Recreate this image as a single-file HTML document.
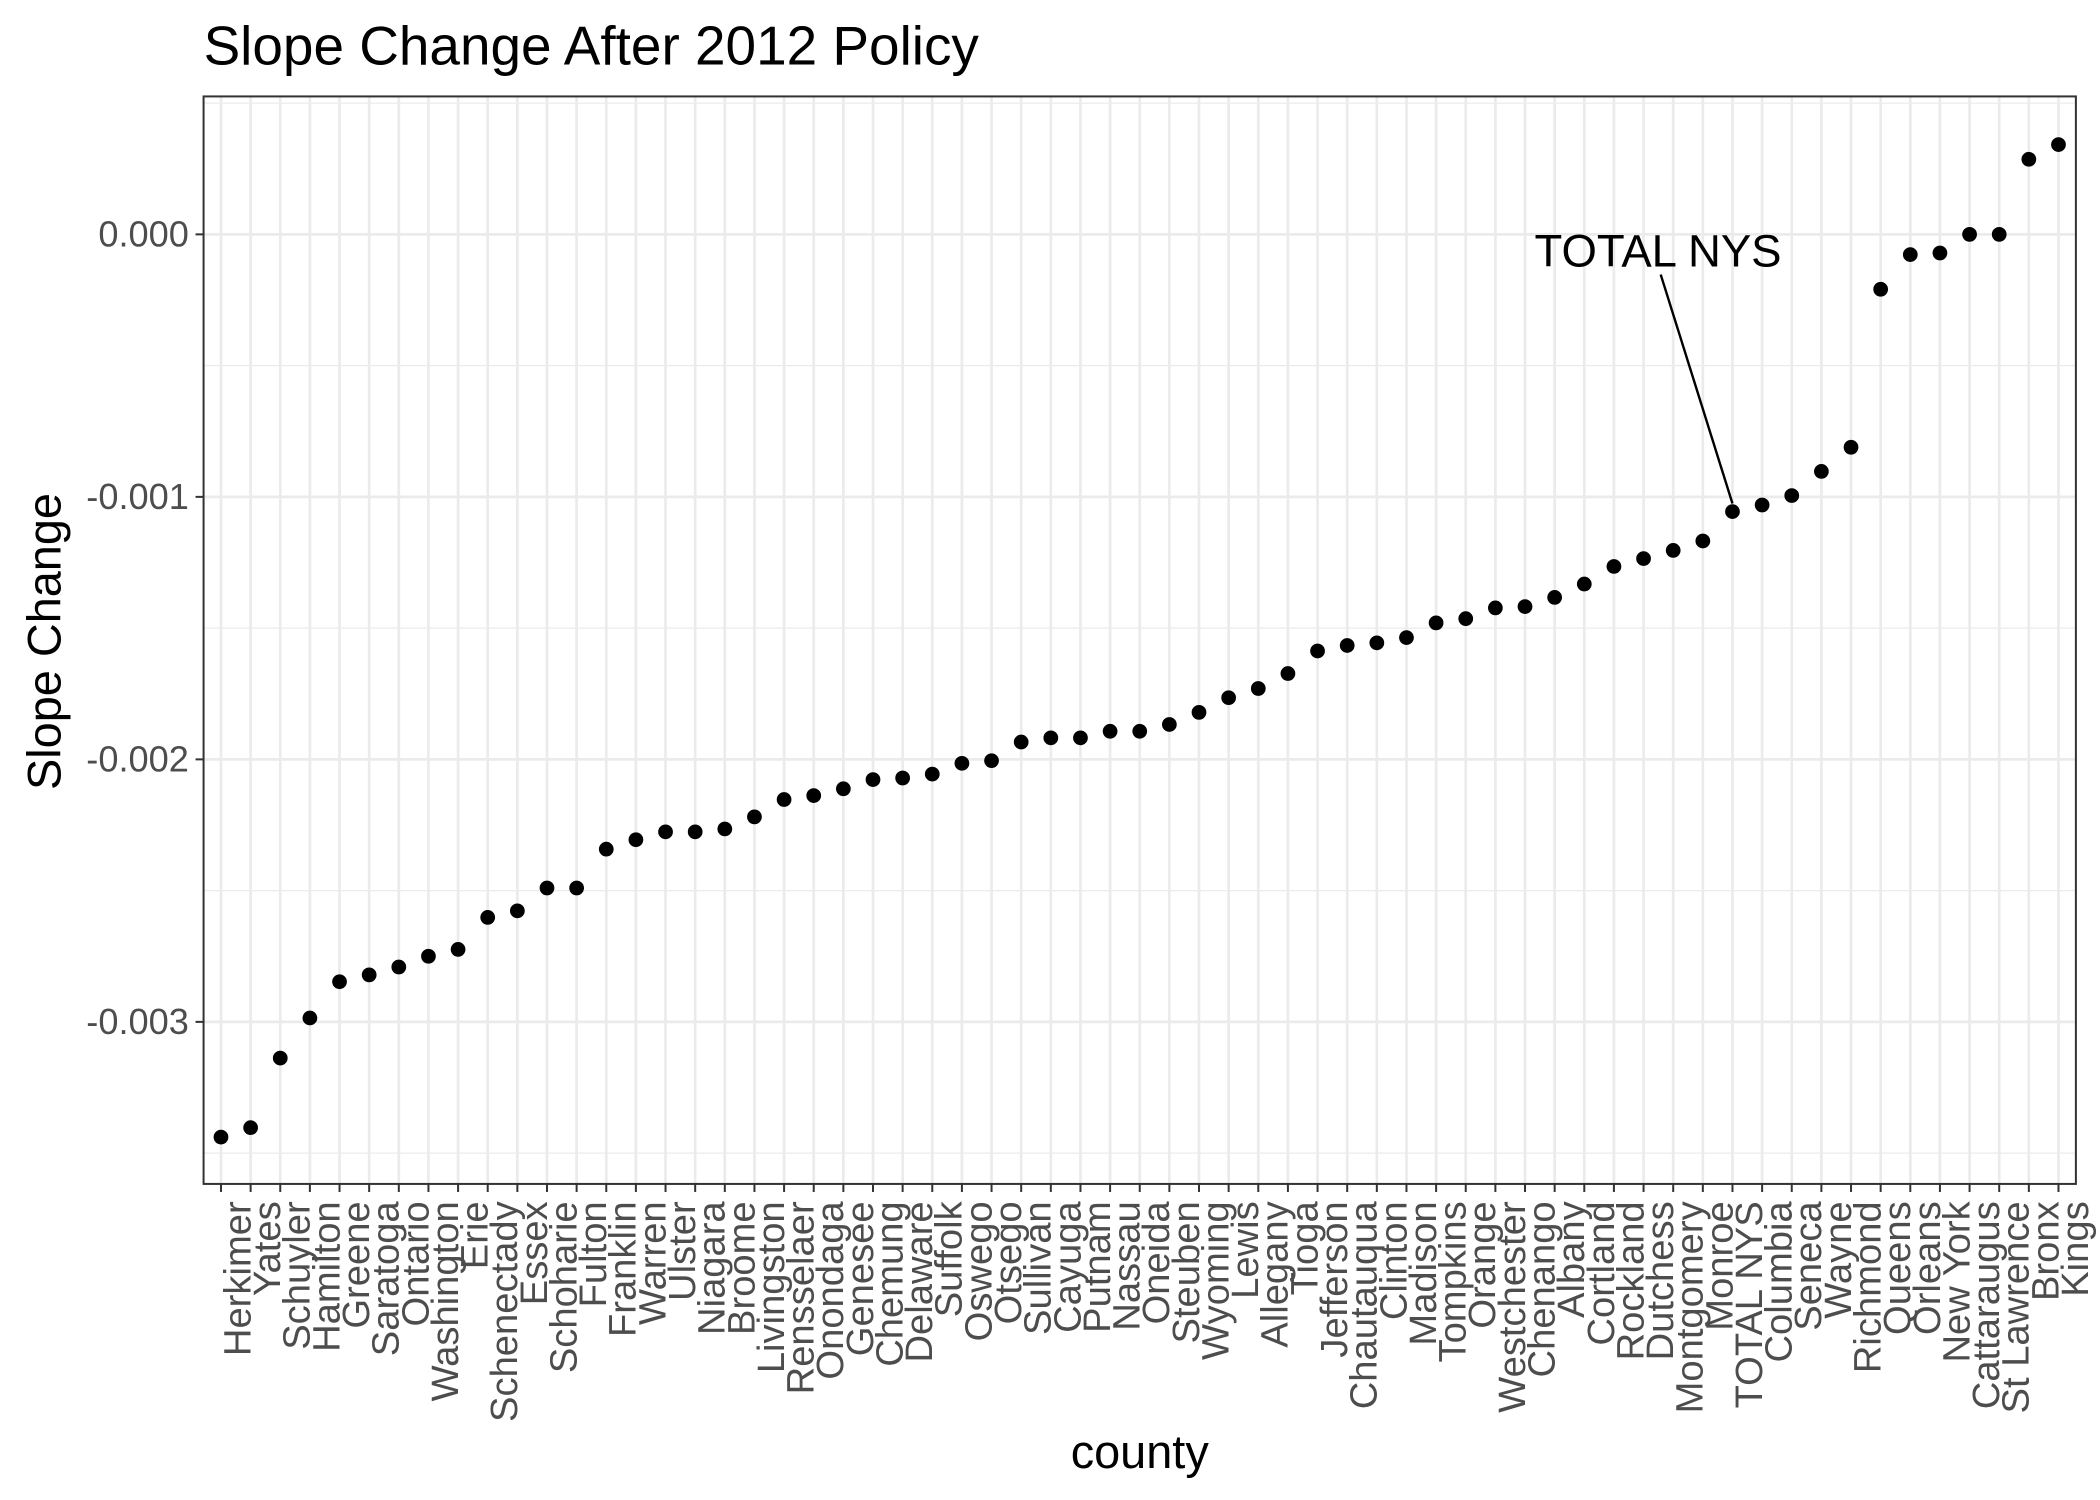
<!DOCTYPE html>
<html><head><meta charset="utf-8"><style>html,body{margin:0;padding:0;background:#fff}svg{display:block}</style></head>
<body>
<svg id="chart" width="2100" height="1500" viewBox="0 0 1568 1120" preserveAspectRatio="none" xmlns="http://www.w3.org/2000/svg" font-family="Liberation Sans, sans-serif"></svg>
<script>
const counties = ["Herkimer","Yates","Schuyler","Hamilton","Greene","Saratoga","Ontario","Washington","Erie","Schenectady","Essex","Schoharie","Fulton","Franklin","Warren","Ulster","Niagara","Broome","Livingston","Rensselaer","Onondaga","Genesee","Chemung","Delaware","Suffolk","Oswego","Otsego","Sullivan","Cayuga","Putnam","Nassau","Oneida","Steuben","Wyoming","Lewis","Allegany","Tioga","Jefferson","Chautauqua","Clinton","Madison","Tompkins","Orange","Westchester","Chenango","Albany","Cortland","Rockland","Dutchess","Montgomery","Monroe","TOTAL NYS","Columbia","Seneca","Wayne","Richmond","Queens","Orleans","New York","Cattaraugus","St Lawrence","Bronx","Kings"];
const slopeValues = [-3.439,-3.403,-3.138,-2.985,-2.847,-2.821,-2.791,-2.750,-2.724,-2.602,-2.577,-2.490,-2.490,-2.342,-2.306,-2.276,-2.276,-2.265,-2.219,-2.153,-2.138,-2.112,-2.077,-2.071,-2.056,-2.015,-2.005,-1.934,-1.918,-1.918,-1.893,-1.893,-1.867,-1.821,-1.765,-1.730,-1.673,-1.587,-1.566,-1.556,-1.536,-1.480,-1.464,-1.423,-1.418,-1.383,-1.332,-1.265,-1.235,-1.204,-1.168,-1.056,-1.031,-0.995,-0.903,-0.811,-0.209,-0.077,-0.071,0.000,0.000,0.286,0.342];
const yTicks = [0,-1,-2,-3];
const yTickLabels = ["0.000","-0.001","-0.002","-0.003"];
const yMinor = [0.5,-0.5,-1.5,-2.5,-3.5];
const annotationLabel = "TOTAL NYS";

const svg = document.getElementById('chart');
const NS = 'http://www.w3.org/2000/svg';
const L=152,R=1550,T=72,B=884;
const x = i => 165 + i*(1537-165)/(counties.length-1);
const y = v => 175 - v*196;
function mk(tag, attrs, parent){const e=document.createElementNS(NS,tag);for(const k in attrs)e.setAttribute(k,attrs[k]);(parent||svg).appendChild(e);return e;}

mk('rect',{x:L,y:T,width:R-L,height:B-T,fill:'#fff'});
yMinor.forEach(v=>{const e=mk('line',{x1:L,x2:R,y1:y(v),y2:y(v),stroke:'#ebebeb','stroke-width':1});

});
yTicks.forEach((v,i)=>{const e=mk('line',{x1:L,x2:R,y1:y(v),y2:y(v),stroke:'#ebebeb','stroke-width':2});


const t=mk('text',{x:141,y:y(v)+9,'text-anchor':'end','font-size':27,fill:'#4d4d4d'});t.textContent=yTickLabels[i];


mk('line',{x1:146,x2:L,y1:y(v),y2:y(v),stroke:'#333','stroke-width':1.5});});
counties.forEach((c,i)=>{const g=mk('line',{x1:x(i),x2:x(i),y1:T,y2:B,stroke:'#ebebeb','stroke-width':2});


mk('line',{x1:x(i),x2:x(i),y1:B,y2:B+6,stroke:'#333','stroke-width':1.5});
const t=mk('text',{x:0,y:0,'text-anchor':'end','font-size':28.5,fill:'#4d4d4d',transform:`translate(${x(i)+22},${B+13}) rotate(-90)`});t.textContent=c;

});
slopeValues.forEach((v,i)=>{const p=mk('ellipse',{cx:x(i),cy:y(v),rx:5.5,ry:5.5,fill:'#000'});

});
const ai = counties.indexOf(annotationLabel);
const al=mk('line',{x1:1240,y1:205,x2:x(ai),y2:y(slopeValues[ai])-6,stroke:'#000','stroke-width':1.8});


const at=mk('text',{x:1238,y:199,'text-anchor':'middle','font-size':34,fill:'#000'});at.textContent=annotationLabel;


const fr=mk('rect',{x:L,y:T,width:R-L,height:B-T,fill:'none',stroke:'#333','stroke-width':1.5});


const tt=mk('text',{x:152,y:48,'font-size':41,fill:'#000'});tt.textContent='Slope Change After 2012 Policy';


const xt=mk('text',{x:851,y:1096,'text-anchor':'middle','font-size':35,fill:'#000'});xt.textContent='county';


const yt=mk('text',{x:0,y:0,'text-anchor':'middle','font-size':35,fill:'#000',transform:'translate(45,479) rotate(-90)'});yt.textContent='Slope Change';


</script>
</body></html>
